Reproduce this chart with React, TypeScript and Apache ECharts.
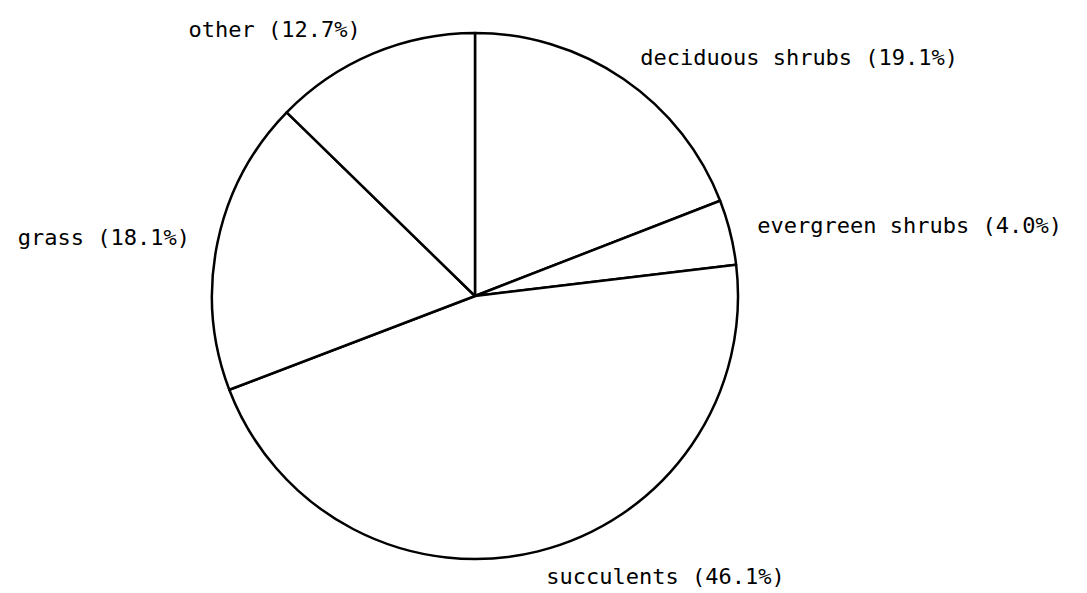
import React, { useEffect, useRef } from "react";
import * as echarts from "echarts";

const categories = ["deciduous shrubs", "evergreen shrubs", "succulents", "grass", "other"];
const percents = [19.1, 4.0, 46.1, 18.1, 12.7];

export default function App() {
  const ref = useRef<HTMLDivElement>(null);
  useEffect(() => {
    if (!ref.current) return;
    const chart = echarts.init(ref.current, undefined, { renderer: "svg" });
    chart.setOption({
      animation: false,
      backgroundColor: "#ffffff",
      series: [
        {
          type: "pie",
          center: [475, 296],
          radius: [0, 263],
          startAngle: 90,
          clockwise: true,
          avoidLabelOverlap: false,
          silent: true,
          data: categories.map((c, i) => ({ name: c, value: percents[i] })),
          itemStyle: { color: "#ffffff", borderColor: "#000000", borderWidth: 2.5 },
          label: {
            show: true,
            position: "outside",
            formatter: (p: any) => `${p.name} (${percents[p.dataIndex].toFixed(1)}%)`,
            fontFamily: "DejaVu Sans Mono",
            fontSize: 22,
            color: "#000000",
            distanceToLabelLine: 0,
          },
          labelLine: { show: false, length: 26, length2: 2 },
          emphasis: { disabled: true },
        },
      ],
    });
    return () => chart.dispose();
  }, []);
  return (
    <div
      ref={ref}
      style={{ position: "fixed", left: 0, top: 0, width: 1087, height: 593, background: "#fff" }}
    />
  );
}
